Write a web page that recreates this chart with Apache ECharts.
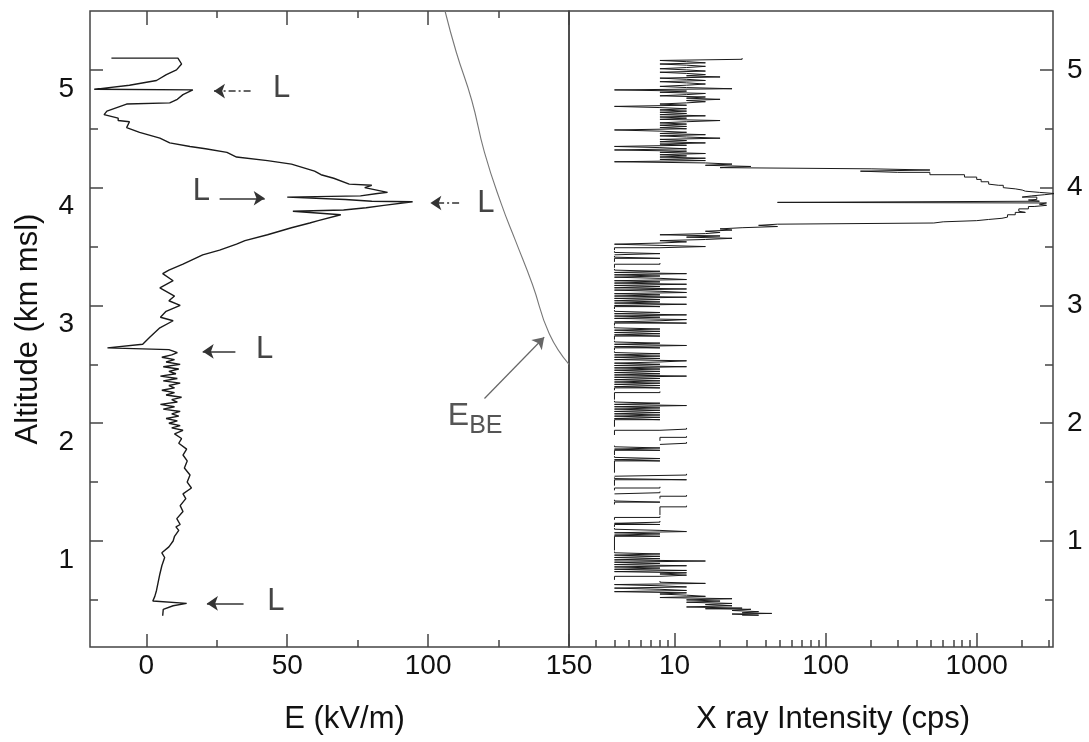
<!DOCTYPE html>
<html>
<head>
<meta charset="utf-8">
<script src="https://cdn.jsdelivr.net/npm/echarts@6/dist/echarts.min.js"></script>
<style>
  html, body { margin: 0; padding: 0; background: #fff; }
  #chart { width: 1089px; height: 742px; }
</style>
</head>
<body>
<div id="chart"></div>
<script>
// E field profile [E (kV/m), altitude (km)] bottom to top
var eField = [
  [5.8,0.365],[6,0.42],[9.5,0.45],[14.3,0.47],[2.3,0.49],[3,0.53],[3.6,0.58],[4.2,0.65],[4.8,0.72],
  [5.5,0.79],[6.5,0.86],[5.5,0.9],[8,0.95],[9.5,1.0],[10,1.04],[11.5,1.09],[10.5,1.12],[12,1.14],
  [10.8,1.19],[13,1.25],[12,1.3],[14,1.36],[13,1.4],[16,1.45],[14.5,1.5],[15.5,1.56],[13.5,1.62],
  [14.5,1.68],[13,1.73],[14.3,1.78],[11.5,1.83],[12.5,1.87],[10,1.91],[13,1.94],[9,1.96],[12,1.98],
  [8,2.0],[11,2.02],[7,2.04],[11.5,2.06],[9,2.08],[12,2.1],[6,2.12],[10,2.14],[5,2.16],[11,2.18],
  [9,2.2],[12.5,2.22],[7,2.24],[10,2.26],[5.5,2.28],[10,2.3],[8,2.32],[12,2.34],[6,2.36],[11,2.38],
  [5,2.4],[10.5,2.42],[8,2.44],[11.5,2.46],[6,2.48],[12,2.5],[7,2.52],[10,2.54],[5.5,2.56],[9,2.58],
  [11,2.6],[8,2.625],[-13.8,2.64],[-1.3,2.67],[1.2,2.73],[4.8,2.81],[9.5,2.87],[5,2.9],[7,2.95],
  [12,3.0],[8,3.04],[10,3.08],[4.8,3.15],[9.5,3.21],[5.8,3.27],[8,3.3],[13,3.35],[20,3.43],[26,3.47],
  [32,3.52],[35,3.55],[43,3.6],[51.5,3.66],[58,3.7],[61,3.72],[69,3.77],[52,3.8],[70,3.81],[78,3.83],
  [84.3,3.85],[94.5,3.88],[80,3.885],[70.6,3.9],[50,3.92],[76,3.93],[82,3.95],[85.6,3.96],[77.5,4.0],
  [80,4.02],[72,4.03],[66.5,4.08],[62,4.11],[59.7,4.14],[51.5,4.2],[43,4.23],[32,4.26],[28.6,4.3],
  [21,4.33],[15.5,4.35],[8.3,4.38],[4.8,4.42],[-2.4,4.47],[-7,4.51],[-6,4.56],[-10,4.57],[-10,4.59],
  [-15,4.62],[-14,4.65],[-7,4.71],[8.3,4.72],[11,4.75],[13,4.79],[16.5,4.83],[-18.5,4.835],[-6,4.87],
  [3.6,4.91],[7.1,4.96],[10.7,5.0],[12.5,5.05],[11.2,5.1],[-12.4,5.1]
];

// breakeven field E_BE [E, altitude]
var eBreakeven = [[150,2.5],[143,2.76],[137,3.18],[131,3.55],[126,3.86],[120,4.3],[115.5,4.74],[110,5.15],[106,5.5]];

// X ray intensity bins [altitude (km), rate (cps)], null = no counts
var xray = [
  [0.37,28],[0.38,36],[0.385,24],[0.39,44],[0.40,28],[0.41,36],[0.42,24],[0.425,32],[0.43,16],[0.44,28],
  [0.45,12],[0.46,24],[0.47,16],[0.48,24],[0.49,12],[0.50,20],[0.51,12],[0.52,24],[0.53,8],[0.54,16],
  [0.55,12],[0.56,8],[0.57,12],[0.58,4],[0.59,12],[0.60,8],[0.61,4],[0.62,12],[0.63,8],[0.64,4],
  [0.65,16],[0.66,8],[0.67,null],
  [0.70,4],[0.71,8],[0.72,12],[0.73,8],[0.74,12],[0.75,4],[0.76,12],[0.77,4],[0.78,8],[0.79,4],
  [0.80,12],[0.81,4],[0.82,8],[0.83,4],[0.84,16],[0.85,4],[0.86,8],[0.87,4],[0.88,8],[0.89,4],
  [0.90,8],[0.91,4],[0.92,null],
  [1.04,4],[1.05,8],[1.06,4],[1.07,8],[1.08,4],[1.09,12],[1.10,8],[1.11,4],[1.12,null],
  [1.14,4],[1.15,8],[1.16,4],[1.17,8],[1.18,null],[1.20,4],[1.21,8],[1.22,null],
  [1.29,8],[1.30,12],[1.31,null],[1.33,4],[1.34,8],[1.35,4],[1.36,null],[1.38,8],[1.39,12],[1.40,null],
  [1.41,4],[1.42,8],[1.43,null],[1.45,4],[1.46,8],[1.47,null],
  [1.52,4],[1.53,12],[1.54,4],[1.55,null],[1.56,4],[1.57,12],[1.58,null],
  [1.68,4],[1.69,8],[1.70,4],[1.71,8],[1.72,4],[1.73,null],[1.77,4],[1.78,8],[1.79,4],[1.80,8],
  [1.81,4],[1.82,null],[1.83,8],[1.84,12],[1.85,null],[1.88,8],[1.89,12],[1.90,null],
  [1.94,4],[1.95,8],[1.96,12],[1.97,null],
  [2.03,4],[2.04,8],[2.05,4],[2.06,8],[2.07,4],[2.08,8],[2.09,4],[2.10,8],[2.11,4],[2.12,8],
  [2.13,4],[2.14,8],[2.15,4],[2.16,12],[2.17,4],[2.18,8],[2.19,4],[2.20,null],[2.26,4],[2.27,8],
  [2.28,null],
  [2.30,4],[2.31,8],[2.32,4],[2.33,8],[2.34,4],[2.35,8],[2.36,4],[2.37,8],[2.38,4],[2.39,8],
  [2.40,4],[2.41,12],[2.42,4],[2.43,8],[2.44,4],[2.45,8],[2.46,4],[2.47,8],[2.48,4],[2.49,12],
  [2.50,4],[2.51,8],[2.52,4],[2.53,8],[2.54,12],[2.55,4],[2.56,8],[2.57,4],[2.58,8],[2.59,4],
  [2.60,8],[2.61,4],[2.62,null],
  [2.64,4],[2.65,8],[2.66,4],[2.67,12],[2.68,4],[2.69,8],[2.70,4],[2.71,null],
  [2.74,4],[2.75,8],[2.76,4],[2.77,8],[2.78,4],[2.79,8],[2.80,4],[2.81,8],[2.82,4],[2.83,null],
  [2.85,4],[2.86,12],[2.87,4],[2.88,8],[2.89,12],[2.90,4],[2.91,8],[2.92,4],[2.93,12],[2.94,4],
  [2.95,8],[2.96,4],[2.97,null],
  [2.99,4],[3.00,8],[3.01,4],[3.02,12],[3.03,4],[3.04,8],[3.05,4],[3.06,8],[3.07,4],[3.08,12],
  [3.09,4],[3.10,8],[3.11,4],[3.12,12],[3.13,8],[3.14,4],[3.15,12],[3.16,4],[3.17,8],[3.18,4],
  [3.19,12],[3.20,4],[3.21,8],[3.22,4],[3.23,12],[3.24,8],[3.25,4],[3.26,8],[3.27,4],[3.28,12],
  [3.29,4],[3.30,8],[3.31,4],[3.32,null],[3.35,4],[3.36,8],[3.37,null],[3.40,4],[3.41,8],[3.42,4],
  [3.43,null],[3.44,4],[3.45,8],[3.46,4],[3.47,null],
  [3.49,4],[3.50,8],[3.51,16],[3.52,8],[3.53,4],[3.54,8],[3.55,12],[3.56,8],[3.57,16],[3.58,24],
  [3.59,12],[3.60,20],[3.61,8],[3.62,16],[3.63,20],[3.64,16],[3.65,24],[3.66,20],[3.67,28],
  [3.68,48],[3.69,36],[3.70,48],[3.71,520],[3.72,600],[3.73,1000],[3.74,1200],[3.75,1470],
  [3.77,1600],[3.79,1800],[3.80,2100],[3.82,1900],[3.84,2200],[3.85,2400],[3.86,2900],[3.87,2600],
  [3.875,2900],[3.885,48],[3.895,2600],[3.90,2200],[3.92,2500],[3.93,2000],[3.94,2300],[3.95,2800],
  [3.96,3300],[3.97,2600],[3.98,2100],[3.99,2000],[4.00,1800],[4.02,1500],[4.03,1400],[4.05,1200],
  [4.07,1070],[4.09,1000],[4.11,830],[4.13,490],[4.14,300],[4.15,170],[4.16,490],[4.17,200],
  [4.18,20],[4.19,32],[4.20,16],[4.21,24],[4.22,16],
  [4.23,4],[4.24,16],[4.25,8],[4.26,16],[4.27,8],[4.28,12],[4.29,8],[4.30,16],[4.31,8],[4.32,12],
  [4.33,4],[4.34,12],[4.35,8],[4.36,4],[4.37,12],[4.38,8],[4.39,16],[4.40,8],[4.41,12],[4.42,8],
  [4.43,20],[4.44,12],[4.45,8],[4.46,16],[4.47,8],[4.48,12],[4.49,8],[4.50,4],[4.51,12],[4.52,8],
  [4.53,12],[4.54,8],[4.55,12],[4.56,8],[4.57,12],[4.58,20],[4.59,8],[4.60,12],[4.61,8],[4.62,16],
  [4.63,8],[4.64,12],[4.65,8],[4.66,12],[4.67,8],[4.68,12],[4.69,8],[4.70,4],[4.71,12],[4.72,8],
  [4.73,12],[4.74,16],[4.75,12],[4.76,20],[4.77,12],[4.78,16],[4.79,8],[4.80,12],[4.81,16],[4.82,8],
  [4.83,12],[4.84,4],[4.85,24],[4.86,12],[4.87,8],[4.88,12],[4.89,16],[4.90,12],[4.91,8],[4.92,16],
  [4.93,12],[4.94,8],[4.95,20],[4.96,12],[4.97,16],[4.98,12],[4.99,8],[5.00,16],[5.01,12],[5.02,8],
  [5.03,12],[5.04,16],[5.05,12],[5.06,8],[5.07,16],[5.08,12],[5.09,8],[5.10,28]
];

// tick values
var eMajorTicks = [0, 50, 100, 150];
var eMinorTicks = [25, 75, 125];
var altMajorTicks = [1, 2, 3, 4, 5];
var altMinorTicks = [0.5, 1.5, 2.5, 3.5, 4.5];
var xrayMajorTicks = [10, 100, 1000];
var xrayMinorTicks = [3, 4, 5, 6, 7, 8, 9, 20, 30, 40, 50, 60, 70, 80, 90,
  200, 300, 400, 500, 600, 700, 800, 900, 2000, 3000];

// annotations: "L" labels and arrows [from, to, dashed]
var lLabels = [[48, 4.84], [19.5, 3.97], [120.5, 3.87], [42, 2.63], [46, 0.49]];
var lArrows = [
  [[37, 4.82], [24, 4.82], true],
  [[26, 3.91], [42, 3.91], false],
  [[111, 3.87], [100.8, 3.87], true],
  [[31.6, 2.61], [20, 2.61], false],
  [[34.5, 0.47], [21.5, 0.47], false]
];
var ebeArrow = [[120, 2.21], [141.2, 2.73]];
var ebeLabelPos = [107, 2.06];

var FONT = "'Liberation Sans', Arial, sans-serif";
var INK = '#111';
var FRAME = '#444';

var chart = echarts.init(document.getElementById('chart'), null, { renderer: 'canvas' });

function tickAxis(extra) {
  var base = {
    axisLine: { show: false, onZero: false },
    splitLine: { show: false },
    axisLabel: { show: false },
    axisTick: { show: true, inside: true, length: 7, lineStyle: { color: FRAME, width: 1.5 } }
  };
  return Object.assign(base, extra);
}

var markArrows = lArrows.map(function (a) {
  return [
    { coord: a[0], lineStyle: { type: a[2] ? [7, 3, 2, 3] : 'solid' } },
    { coord: a[1] }
  ];
});
markArrows.push([
  { coord: ebeArrow[0], lineStyle: { color: '#666', width: 1.2, type: 'solid' }, itemStyle: { color: '#666' } },
  { coord: ebeArrow[1] }
]);

var markLabels = lLabels.map(function (p) { return { coord: p, name: 'L' }; });
markLabels.push({
  coord: ebeLabelPos,
  name: 'EBE',
  label: {
    align: 'left',
    formatter: '{a|E}{b|BE}',
    rich: {
      a: { fontSize: 32, color: '#555', fontFamily: FONT },
      b: { fontSize: 25, color: '#555', fontFamily: FONT, padding: [20, 0, 0, 0] }
    }
  }
});

chart.setOption({
  backgroundColor: '#fff',
  animation: false,
  textStyle: { fontFamily: FONT },
  grid: [
    { left: 90, top: 11, width: 479, height: 636, show: true, borderColor: FRAME, borderWidth: 1.5 },
    { left: 569, top: 11, width: 484, height: 636, show: true, borderColor: FRAME, borderWidth: 1.5 }
  ],
  xAxis: [
    tickAxis({
      gridIndex: 0, type: 'value', position: 'bottom', offset: 0, min: -20, max: 150,
      name: 'E (kV/m)', nameLocation: 'middle', nameGap: 57,
      nameTextStyle: { fontSize: 31, color: INK, padding: [0, 0, 0, 30] },
      axisTick: { show: true, inside: true, length: 13, customValues: eMajorTicks, lineStyle: { color: FRAME, width: 1.5 } },
      axisLabel: { show: true, customValues: eMajorTicks, fontSize: 28, color: INK, margin: 5 }
    }),
    tickAxis({
      gridIndex: 0, type: 'value', position: 'bottom', offset: 0, min: -20, max: 150,
      axisTick: { show: true, inside: true, length: 7, customValues: eMinorTicks, lineStyle: { color: FRAME, width: 1.5 } }
    }),
    tickAxis({
      gridIndex: 0, type: 'value', position: 'top', offset: 0, min: -20, max: 150,
      axisTick: { show: true, inside: true, length: 14, customValues: eMajorTicks, lineStyle: { color: FRAME, width: 1.5 } }
    }),
    tickAxis({
      gridIndex: 0, type: 'value', position: 'top', offset: 0, min: -20, max: 150,
      axisTick: { show: true, inside: true, length: 7, customValues: eMinorTicks, lineStyle: { color: FRAME, width: 1.5 } }
    }),
    tickAxis({
      gridIndex: 1, type: 'log', logBase: 10, position: 'bottom', offset: 0, min: 2, max: 3200,
      name: 'X ray Intensity (cps)', nameLocation: 'middle', nameGap: 57,
      nameTextStyle: { fontSize: 31, color: INK, padding: [0, 0, 0, 44] },
      axisTick: { show: true, inside: true, length: 14, customValues: xrayMajorTicks, lineStyle: { color: FRAME, width: 1.5 } },
      axisLabel: {
        show: true, customValues: xrayMajorTicks, fontSize: 28, color: INK, margin: 5,
        formatter: function (v) { return String(Math.round(v)); }
      }
    }),
    tickAxis({
      gridIndex: 1, type: 'log', logBase: 10, position: 'bottom', offset: 0, min: 2, max: 3200,
      axisTick: { show: true, inside: true, length: 7, customValues: xrayMinorTicks, lineStyle: { color: FRAME, width: 1.5 } }
    })
  ],
  yAxis: [
    tickAxis({
      gridIndex: 0, type: 'value', position: 'left', offset: 0, min: 0.1, max: 5.5,
      name: 'Altitude (km msl)', nameLocation: 'middle', nameGap: 46,
      nameTextStyle: { fontSize: 31, color: INK },
      axisTick: { show: true, inside: true, length: 13, customValues: altMajorTicks, lineStyle: { color: FRAME, width: 1.5 } },
      axisLabel: {
        show: true, customValues: altMajorTicks, fontSize: 28, color: INK, margin: 16,
        verticalAlign: 'top', padding: [5, 0, 0, 0]
      }
    }),
    tickAxis({
      gridIndex: 0, type: 'value', position: 'left', offset: 0, min: 0.1, max: 5.5,
      axisTick: { show: true, inside: true, length: 8, customValues: altMinorTicks, lineStyle: { color: FRAME, width: 1.5 } }
    }),
    tickAxis({
      gridIndex: 1, type: 'value', position: 'right', offset: 0, min: 0.1, max: 5.5,
      axisTick: { show: true, inside: true, length: 13, customValues: altMajorTicks, lineStyle: { color: FRAME, width: 1.5 } },
      axisLabel: { show: true, customValues: altMajorTicks, fontSize: 28, color: INK, margin: 14 }
    }),
    tickAxis({
      gridIndex: 1, type: 'value', position: 'right', offset: 0, min: 0.1, max: 5.5,
      axisTick: { show: true, inside: true, length: 8, customValues: altMinorTicks, lineStyle: { color: FRAME, width: 1.5 } }
    })
  ],
  series: [
    {
      name: 'E',
      type: 'line',
      xAxisIndex: 0, yAxisIndex: 0,
      data: eField,
      showSymbol: false,
      silent: true,
      lineStyle: { color: '#1a1a1a', width: 1.4 }
    },
    {
      name: 'E_BE',
      type: 'line',
      xAxisIndex: 0, yAxisIndex: 0,
      data: eBreakeven,
      smooth: true,
      showSymbol: false,
      silent: true,
      lineStyle: { color: '#777', width: 1.1 },
      markLine: {
        silent: true,
        symbol: ['none', 'arrow'],
        symbolSize: 11,
        label: { show: false },
        lineStyle: { color: '#333', width: 1.5, type: 'solid' },
        itemStyle: { color: '#333' },
        data: markArrows
      },
      markPoint: {
        silent: true,
        symbol: 'circle',
        symbolSize: 0,
        label: {
          show: true, position: [0, 0], align: 'center', verticalAlign: 'middle',
          formatter: '{b}', fontSize: 31, color: '#444', fontFamily: FONT
        },
        data: markLabels
      }
    },
    {
      name: 'X ray',
      type: 'line',
      xAxisIndex: 4, yAxisIndex: 2,
      data: xray.map(function (d) { return [d[1] == null ? '-' : d[1], d[0]]; }),
      step: 'end',
      connectNulls: false,
      showSymbol: false,
      silent: true,
      lineStyle: { color: '#1a1a1a', width: 1 }
    }
  ]
});
</script>
</body>
</html>
